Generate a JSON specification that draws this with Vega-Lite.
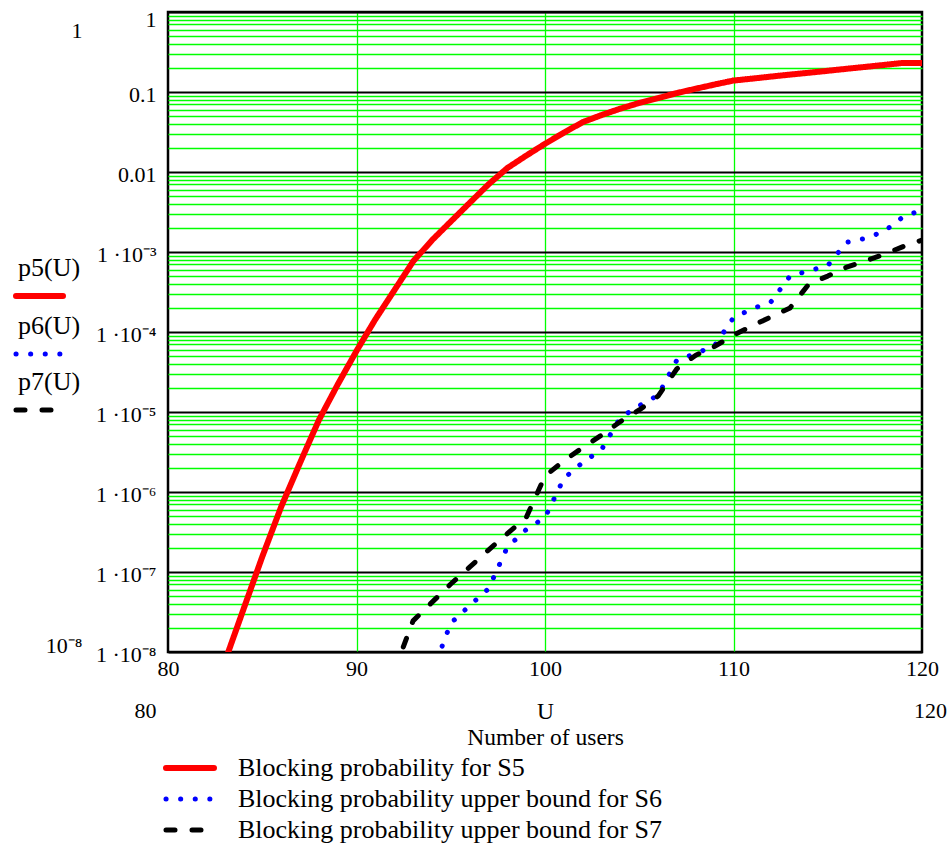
{
"$schema": "https://vega.github.io/schema/vega-lite/v6.json",
"width": 754, "height": 640,
"autosize": {"type": "none"},
"padding": {"left": 168, "top": 12, "right": 29, "bottom": 197},
"config": {
  "font": "Liberation Serif",
  "view": {"stroke": "black", "strokeWidth": 2.5},
  "axis": {"labelFont": "Liberation Serif", "titleFont": "Liberation Serif", "labelColor": "black", "titleColor": "black"},
  "legend": {"labelFont": "Liberation Serif", "labelColor": "black"}
},
"datasets": {
  "curves": [
    {"U":83,"p":7.4e-9,"s":"p5(U)","d":"Blocking probability for S5"},
    {"U":84,"p":3.4e-8,"s":"p5(U)","d":"Blocking probability for S5"},
    {"U":85,"p":1.55e-7,"s":"p5(U)","d":"Blocking probability for S5"},
    {"U":86,"p":6.5e-7,"s":"p5(U)","d":"Blocking probability for S5"},
    {"U":87,"p":2.3e-6,"s":"p5(U)","d":"Blocking probability for S5"},
    {"U":88,"p":7.9e-6,"s":"p5(U)","d":"Blocking probability for S5"},
    {"U":89,"p":2.2e-5,"s":"p5(U)","d":"Blocking probability for S5"},
    {"U":90,"p":5.8e-5,"s":"p5(U)","d":"Blocking probability for S5"},
    {"U":91,"p":1.44e-4,"s":"p5(U)","d":"Blocking probability for S5"},
    {"U":92,"p":3.3e-4,"s":"p5(U)","d":"Blocking probability for S5"},
    {"U":93,"p":7.6e-4,"s":"p5(U)","d":"Blocking probability for S5"},
    {"U":94,"p":1.4e-3,"s":"p5(U)","d":"Blocking probability for S5"},
    {"U":95,"p":2.4e-3,"s":"p5(U)","d":"Blocking probability for S5"},
    {"U":96,"p":4.1e-3,"s":"p5(U)","d":"Blocking probability for S5"},
    {"U":97,"p":7.0e-3,"s":"p5(U)","d":"Blocking probability for S5"},
    {"U":98,"p":0.0112,"s":"p5(U)","d":"Blocking probability for S5"},
    {"U":99,"p":0.016,"s":"p5(U)","d":"Blocking probability for S5"},
    {"U":100,"p":0.0225,"s":"p5(U)","d":"Blocking probability for S5"},
    {"U":101,"p":0.031,"s":"p5(U)","d":"Blocking probability for S5"},
    {"U":102,"p":0.042,"s":"p5(U)","d":"Blocking probability for S5"},
    {"U":103,"p":0.0515,"s":"p5(U)","d":"Blocking probability for S5"},
    {"U":104,"p":0.062,"s":"p5(U)","d":"Blocking probability for S5"},
    {"U":105,"p":0.073,"s":"p5(U)","d":"Blocking probability for S5"},
    {"U":106,"p":0.084,"s":"p5(U)","d":"Blocking probability for S5"},
    {"U":107,"p":0.097,"s":"p5(U)","d":"Blocking probability for S5"},
    {"U":108,"p":0.11,"s":"p5(U)","d":"Blocking probability for S5"},
    {"U":109,"p":0.124,"s":"p5(U)","d":"Blocking probability for S5"},
    {"U":110,"p":0.139,"s":"p5(U)","d":"Blocking probability for S5"},
    {"U":111,"p":0.147,"s":"p5(U)","d":"Blocking probability for S5"},
    {"U":112,"p":0.156,"s":"p5(U)","d":"Blocking probability for S5"},
    {"U":113,"p":0.165,"s":"p5(U)","d":"Blocking probability for S5"},
    {"U":114,"p":0.174,"s":"p5(U)","d":"Blocking probability for S5"},
    {"U":115,"p":0.184,"s":"p5(U)","d":"Blocking probability for S5"},
    {"U":116,"p":0.195,"s":"p5(U)","d":"Blocking probability for S5"},
    {"U":117,"p":0.206,"s":"p5(U)","d":"Blocking probability for S5"},
    {"U":118,"p":0.218,"s":"p5(U)","d":"Blocking probability for S5"},
    {"U":119,"p":0.231,"s":"p5(U)","d":"Blocking probability for S5"},
    {"U":120,"p":0.231,"s":"p5(U)","d":"Blocking probability for S5"},
    {"U":94,"p":5.4e-9,"s":"p6(U)","d":"Blocking probability upper bound for S6"},
    {"U":95,"p":2.29e-8,"s":"p6(U)","d":"Blocking probability upper bound for S6"},
    {"U":96,"p":3.8e-8,"s":"p6(U)","d":"Blocking probability upper bound for S6"},
    {"U":97,"p":6.17e-8,"s":"p6(U)","d":"Blocking probability upper bound for S6"},
    {"U":98,"p":2.04e-7,"s":"p6(U)","d":"Blocking probability upper bound for S6"},
    {"U":99,"p":3.39e-7,"s":"p6(U)","d":"Blocking probability upper bound for S6"},
    {"U":100,"p":4.79e-7,"s":"p6(U)","d":"Blocking probability upper bound for S6"},
    {"U":101,"p":1.48e-6,"s":"p6(U)","d":"Blocking probability upper bound for S6"},
    {"U":102,"p":2.34e-6,"s":"p6(U)","d":"Blocking probability upper bound for S6"},
    {"U":103,"p":3.39e-6,"s":"p6(U)","d":"Blocking probability upper bound for S6"},
    {"U":104,"p":8.5e-6,"s":"p6(U)","d":"Blocking probability upper bound for S6"},
    {"U":105,"p":1.2e-5,"s":"p6(U)","d":"Blocking probability upper bound for S6"},
    {"U":106,"p":1.62e-5,"s":"p6(U)","d":"Blocking probability upper bound for S6"},
    {"U":107,"p":4.47e-5,"s":"p6(U)","d":"Blocking probability upper bound for S6"},
    {"U":108,"p":5.37e-5,"s":"p6(U)","d":"Blocking probability upper bound for S6"},
    {"U":109,"p":6.76e-5,"s":"p6(U)","d":"Blocking probability upper bound for S6"},
    {"U":110,"p":1.51e-4,"s":"p6(U)","d":"Blocking probability upper bound for S6"},
    {"U":111,"p":1.95e-4,"s":"p6(U)","d":"Blocking probability upper bound for S6"},
    {"U":112,"p":2.4e-4,"s":"p6(U)","d":"Blocking probability upper bound for S6"},
    {"U":113,"p":5.0e-4,"s":"p6(U)","d":"Blocking probability upper bound for S6"},
    {"U":114,"p":5.82e-4,"s":"p6(U)","d":"Blocking probability upper bound for S6"},
    {"U":115,"p":6.76e-4,"s":"p6(U)","d":"Blocking probability upper bound for S6"},
    {"U":116,"p":1.32e-3,"s":"p6(U)","d":"Blocking probability upper bound for S6"},
    {"U":117,"p":1.48e-3,"s":"p6(U)","d":"Blocking probability upper bound for S6"},
    {"U":118,"p":1.82e-3,"s":"p6(U)","d":"Blocking probability upper bound for S6"},
    {"U":119,"p":2.75e-3,"s":"p6(U)","d":"Blocking probability upper bound for S6"},
    {"U":120,"p":3.35e-3,"s":"p6(U)","d":"Blocking probability upper bound for S6"},
    {"U":92,"p":5.75e-9,"s":"p7(U)","d":"Blocking probability upper bound for S7"},
    {"U":93,"p":2.45e-8,"s":"p7(U)","d":"Blocking probability upper bound for S7"},
    {"U":94,"p":4.17e-8,"s":"p7(U)","d":"Blocking probability upper bound for S7"},
    {"U":95,"p":7.08e-8,"s":"p7(U)","d":"Blocking probability upper bound for S7"},
    {"U":96,"p":1.15e-7,"s":"p7(U)","d":"Blocking probability upper bound for S7"},
    {"U":97,"p":1.88e-7,"s":"p7(U)","d":"Blocking probability upper bound for S7"},
    {"U":98,"p":3.02e-7,"s":"p7(U)","d":"Blocking probability upper bound for S7"},
    {"U":99,"p":4.79e-7,"s":"p7(U)","d":"Blocking probability upper bound for S7"},
    {"U":100,"p":1.58e-6,"s":"p7(U)","d":"Blocking probability upper bound for S7"},
    {"U":101,"p":2.45e-6,"s":"p7(U)","d":"Blocking probability upper bound for S7"},
    {"U":102,"p":3.59e-6,"s":"p7(U)","d":"Blocking probability upper bound for S7"},
    {"U":103,"p":5.13e-6,"s":"p7(U)","d":"Blocking probability upper bound for S7"},
    {"U":104,"p":7.59e-6,"s":"p7(U)","d":"Blocking probability upper bound for S7"},
    {"U":105,"p":1.06e-5,"s":"p7(U)","d":"Blocking probability upper bound for S7"},
    {"U":106,"p":1.58e-5,"s":"p7(U)","d":"Blocking probability upper bound for S7"},
    {"U":107,"p":3.47e-5,"s":"p7(U)","d":"Blocking probability upper bound for S7"},
    {"U":108,"p":5.13e-5,"s":"p7(U)","d":"Blocking probability upper bound for S7"},
    {"U":109,"p":6.61e-5,"s":"p7(U)","d":"Blocking probability upper bound for S7"},
    {"U":110,"p":9.12e-5,"s":"p7(U)","d":"Blocking probability upper bound for S7"},
    {"U":111,"p":1.2e-4,"s":"p7(U)","d":"Blocking probability upper bound for S7"},
    {"U":112,"p":1.55e-4,"s":"p7(U)","d":"Blocking probability upper bound for S7"},
    {"U":113,"p":2.0e-4,"s":"p7(U)","d":"Blocking probability upper bound for S7"},
    {"U":114,"p":3.98e-4,"s":"p7(U)","d":"Blocking probability upper bound for S7"},
    {"U":115,"p":5.0e-4,"s":"p7(U)","d":"Blocking probability upper bound for S7"},
    {"U":116,"p":6.46e-4,"s":"p7(U)","d":"Blocking probability upper bound for S7"},
    {"U":117,"p":7.76e-4,"s":"p7(U)","d":"Blocking probability upper bound for S7"},
    {"U":118,"p":9.33e-4,"s":"p7(U)","d":"Blocking probability upper bound for S7"},
    {"U":119,"p":1.17e-3,"s":"p7(U)","d":"Blocking probability upper bound for S7"},
    {"U":120,"p":1.41e-3,"s":"p7(U)","d":"Blocking probability upper bound for S7"}
  ]
},
"data": {"name": "curves"},
"layer": [
  {
    "mark": {"type": "line", "strokeCap": "round", "strokeJoin": "round", "clip": true},
    "encoding": {
      "x": {"field": "U", "type": "quantitative",
        "scale": {"domain": [80, 120], "nice": false, "zero": false},
        "axis": {"values": [80, 90, 100, 110, 120], "format": "d", "labelFontSize": 22, "labelPadding": 6, "labelFlush": false,
          "ticks": false, "domain": false, "gridColor": "#00ff00", "gridWidth": 1.3,
          "gridOpacity": {"condition": {"test": "datum.value == 80 || datum.value == 120", "value": 0}, "value": 1},
          "title": ["U", "Number of users"], "titleFontSize": 23.5, "titleFontWeight": "normal", "titleLineHeight": 26, "titlePadding": 20}},
      "y": {"field": "p", "type": "quantitative",
        "scale": {"type": "log", "domain": [1e-8, 1], "nice": false},
        "axis": {"values": [1e-8,2e-8,3e-8,4e-8,5e-8,6e-8,7e-8,8e-8,9e-8,1e-7,2e-7,3e-7,4e-7,5e-7,6e-7,7e-7,8e-7,9e-7,1e-6,2e-6,3e-6,4e-6,5e-6,6e-6,7e-6,8e-6,9e-6,1e-5,2e-5,3e-5,4e-5,5e-5,6e-5,7e-5,8e-5,9e-5,1e-4,2e-4,3e-4,4e-4,5e-4,6e-4,7e-4,8e-4,9e-4,0.001,0.002,0.003,0.004,0.005,0.006,0.007,0.008,0.009,0.01,0.02,0.03,0.04,0.05,0.06,0.07,0.08,0.09,0.1,0.2,0.3,0.4,0.5,0.6,0.7,0.8,0.9,1],
          "labelExpr": "abs(log(datum.value)/LN10 - round(log(datum.value)/LN10)) > 0.001 ? '' : (datum.value > 0.5 ? '1' : datum.value > 0.05 ? '0.1' : datum.value > 0.005 ? '0.01' : '1 ·10⁻' + ['','','','³','⁴','⁵','⁶','⁷','⁸'][-round(log(datum.value)/LN10)] + '\u00a0\u00a0')",
          "labelFontSize": 22, "labelPadding": 12, "ticks": false, "domain": false,
          "labelOffset": {"condition": {"test": "datum.value > 0.5", "value": 7}, "value": 2},
          "gridColor": {"condition": {"test": "abs(log(datum.value)/LN10 - round(log(datum.value)/LN10)) < 0.001", "value": "black"}, "value": "#00ff00"},
          "gridWidth": {"condition": {"test": "abs(log(datum.value)/LN10 - round(log(datum.value)/LN10)) < 0.001", "value": 2}, "value": 1.3},
          "title": null}},
      "color": {"field": "d", "type": "nominal",
        "scale": {"domain": ["Blocking probability for S5", "Blocking probability upper bound for S6", "Blocking probability upper bound for S7"], "range": ["#ff0000", "#0000ff", "#000000"]},
        "legend": {"orient": "none", "legendX": 9, "legendY": 743, "direction": "vertical", "title": null, "padding": 0,
          "symbolSize": 4, "labelFontSize": 26, "labelOffset": 35, "labelLimit": 700, "rowPadding": 5,
          "encode": {"symbols": {"update": {"shape": {"value": "M-24,0L24,0"}, "strokeCap": {"value": "round"},
            "strokeWidth": {"signal": "datum.value === 'Blocking probability for S5' ? 6 : 5"}}}}}},
      "strokeDash": {"field": "d", "type": "nominal",
        "scale": {"domain": ["Blocking probability for S5", "Blocking probability upper bound for S6", "Blocking probability upper bound for S7"], "range": [[1, 0], [0.1, 14.5], [9, 17]]}},
      "strokeWidth": {"condition": {"test": "datum.s === 'p5(U)'", "value": 6}, "value": 5}
    }
  },
  {
    "mark": {"type": "line", "opacity": 0},
    "encoding": {
      "x": {"field": "U", "type": "quantitative",
        "scale": {"domain": [80, 120], "nice": false, "zero": false},
        "axis": {"orient": "bottom", "offset": 42, "values": [80, 120], "format": "d", "labelFontSize": 22, "labelPadding": 6, "labelFlush": false,
          "labelOffset": {"condition": {"test": "datum.value < 100", "value": -23}, "value": 8},
          "ticks": false, "domain": false, "grid": false, "title": null}},
      "y": {"field": "p", "type": "quantitative",
        "scale": {"type": "log", "domain": [1e-8, 1], "nice": false},
        "axis": {"orient": "left", "offset": 78, "values": [1e-8, 1], "labelExpr": "datum.value > 0.5 ? '1' : '10⁻⁸'",
          "labelFontSize": 22, "labelPadding": 8, "ticks": false, "domain": false, "grid": false, "title": null,
          "labelOffset": {"condition": {"test": "datum.value > 0.5", "value": 18}, "value": -7}}},
      "stroke": {"field": "s", "type": "nominal",
        "scale": {"domain": ["p5(U)", "p6(U)", "p7(U)"], "range": ["#ff0000", "#0000ff", "#000000"]},
        "legend": {"orient": "none", "legendX": -141.5, "legendY": 271, "direction": "vertical", "title": null, "padding": 0,
          "symbolSize": 4, "labelFontSize": 26, "labelOffset": 0, "rowPadding": 5,
          "encode": {
            "symbols": {"update": {"shape": {"value": "M-23.5,0L23.5,0"}, "strokeCap": {"value": "round"},
              "opacity": {"value": 1}, "strokeOpacity": {"value": 1},
              "strokeWidth": {"signal": "datum.value === 'p5(U)' ? 6 : 5"},
              "strokeDash": {"signal": "datum.value === 'p6(U)' ? [0.1, 14.5] : datum.value === 'p7(U)' ? [9, 17] : [1, 0]"}}},
            "labels": {"update": {"dx": {"value": -34.5}, "dy": {"value": -28}}}}}}
    }
  }
],
"resolve": {"scale": {"x": "independent", "y": "independent"}, "axis": {"x": "independent", "y": "independent"}}
}
